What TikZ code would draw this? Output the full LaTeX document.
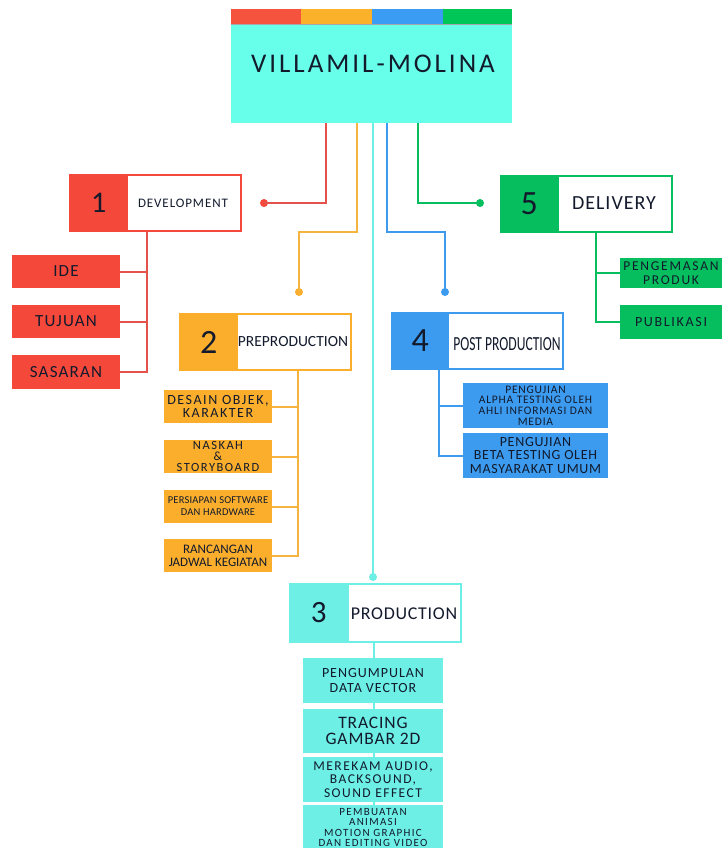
\documentclass[tikz,border=0pt]{standalone}
\usepackage{fontspec}
\setmainfont{Carlito}
\definecolor{redA}{HTML}{F4483B}
\definecolor{redL}{HTML}{E4524C}
\definecolor{orA}{HTML}{FBAE2C}
\definecolor{orL}{HTML}{F5B340}
\definecolor{blA}{HTML}{3C9BEF}
\definecolor{grA}{HTML}{06BE5E}
\definecolor{mintA}{HTML}{68FFEA}
\definecolor{cyA}{HTML}{6DEFE6}
\definecolor{barR}{HTML}{F5533D}
\definecolor{barO}{HTML}{FBB12A}
\definecolor{barB}{HTML}{3B9CF4}
\definecolor{barG}{HTML}{00C657}
\definecolor{ink}{HTML}{121A2C}
\newcommand\tf[3]{\fontsize{#1}{#2}\selectfont\addfontfeatures{LetterSpace=#3}}
\begin{document}
\begin{tikzpicture}[x=1pt,y=-1pt,
  stepbox/.style={draw=#1, line width=2pt, fill=white, minimum width=171pt, minimum height=56pt, inner sep=0pt},
  numbox/.style={fill=#1, minimum height=58pt, inner sep=0pt, anchor=west, text=ink},
  subbox/.style={fill=#1, inner sep=0pt, align=center, text=ink},
  conn/.style={draw=#1, line width=2.2pt},
  stem/.style={draw=#1, line width=2pt},
  dot/.style={circle, fill=#1, inner sep=0pt, minimum size=8pt},
  lbl/.style={text=ink, inner sep=0pt}]
\useasboundingbox (0,0) rectangle (722,848);

% title
\fill[barR] (231,9) rectangle (301,24);
\fill[barO] (301,9) rectangle (372,24);
\fill[barB] (372,9) rectangle (443,24);
\fill[barG] (443,9) rectangle (512,24);
\node[fill=mintA, minimum width=281pt, minimum height=99pt, inner sep=0pt, anchor=north west] (title) at (231,24) {};
\draw[gray!70, line width=0.8pt] (title.north west) -- (title.north east);
\node[lbl, font=\tf{27}{27}{11}] (tt) at (373,64) {VILLAMIL-MOLINA};

% coordinates for connectors
\coordinate (r1) at (326,203);
\coordinate (o1) at (357,232);
\coordinate (o2) at (299,232);
\coordinate (c1) at (373,577);
\coordinate (bl1) at (387,232);
\coordinate (bl2) at (445,232);
\coordinate (g1) at (418,203);

\node[dot=redA] (d1) at (264,203) {};
\node[dot=orA] (d2) at (299,292) {};
\node[dot=cyA] (d3) at (373,577) {};
\node[dot=blA] (d4) at (445,292) {};
\node[dot=grA] (d5) at (480,203) {};

\draw[conn=redL] (title.south -| r1) -- (r1) -- (d1.center);
\draw[conn=orL] (title.south -| o1) -- (o1) -- (o2) -- (d2.center);
\draw[conn=cyA] (title.south -| c1) -- (d3.center);
\draw[conn=blA] (title.south -| bl1) -- (bl1) -- (bl2) -- (d4.center);
\draw[conn=grA] (title.south -| g1) -- (g1) -- (d5.center);

% step boxes
\node[stepbox=redA] (b1) at (155.5,203) {};
\node[numbox=redA, minimum width=59pt, font=\fontsize{30}{30}\selectfont] (n1) at (b1.west) {1};
\node[lbl, font=\tf{13}{13}{7}] (l1) at (183,203) {DEVELOPMENT};

\node[stepbox=orA] (b2) at (265.5,342) {};
\node[numbox=orA, minimum width=59pt, font=\fontsize{34}{34}\selectfont] (n2) at (b2.west) {2};
\node[lbl, font=\tf{15.5}{15}{0}] (l2) at (293,342) {PREPRODUCTION};

\node[stepbox=cyA, minimum height=58pt] (b3) at (375,613) {};
\node[numbox=cyA, minimum width=60pt, minimum height=60pt, font=\fontsize{31}{31}\selectfont] (n3) at (b3.west) {3};
\node[lbl, font=\tf{18}{18}{4}] (l3) at (404,614) {PRODUCTION};

\node[stepbox=blA] (b4) at (477.5,341) {};
\node[numbox=blA, minimum width=58pt, font=\fontsize{34}{34}\selectfont] (n4) at (b4.west) {4};
\node[lbl, font=\fontsize{20}{20}\selectfont] (l4) at (507,344) {\scalebox{0.68}[1]{POST PRODUCTION}};

\node[stepbox=grA] (b5) at (586,203.5) {};
\node[numbox=grA, minimum width=59pt, font=\fontsize{34}{34}\selectfont] (n5) at (b5.west) {5};
\node[lbl, font=\tf{20}{20}{5}] (l5) at (614,203) {DELIVERY};

% development subs
\node[subbox=redA, minimum width=108pt, minimum height=33pt, font=\tf{17}{17}{7}] (ide) at (66,271.5) {IDE};
\node[subbox=redA, minimum width=108pt, minimum height=33pt, font=\tf{17}{17}{7}] (tuj) at (66,321.5) {TUJUAN};
\node[subbox=redA, minimum width=108pt, minimum height=34pt, font=\tf{17}{17}{7}] (sas) at (66,372) {SASARAN};
\coordinate (s1) at (147,372);
\draw[stem=redL] (b1.south -| s1) -- (s1) -- (sas.east);
\draw[stem=redL] (ide.east) -- (ide.east -| s1);
\draw[stem=redL] (tuj.east) -- (tuj.east -| s1);

% preproduction subs
\coordinate (s2) at (298,556);
\draw[stem=orL] (b2.south -| s2) -- (s2) -- (218,556);
\node[subbox=orA, minimum width=108pt, minimum height=33pt, font=\tf{14}{13}{11}] (des) at (218,406.5) {DESAIN OBJEK,\\KARAKTER};
\node[subbox=orA, minimum width=108pt, minimum height=33pt, font=\tf{12.5}{11}{12}] (nas) at (218,456.5) {NASKAH\\\&\\STORYBOARD};
\node[subbox=orA, minimum width=108pt, minimum height=33pt, font=\tf{10.5}{12}{2}] (per) at (218,506.5) {PERSIAPAN SOFTWARE\\DAN HARDWARE};
\node[subbox=orA, minimum width=108pt, minimum height=33pt, font=\tf{13}{13}{0}] (ran) at (218,555.5) {RANCANGAN\\JADWAL KEGIATAN};
\draw[stem=orL] (des.east) -- (des.east -| s2);
\draw[stem=orL] (nas.east) -- (nas.east -| s2);
\draw[stem=orL] (per.east) -- (per.east -| s2);

% post production subs
\coordinate (s4) at (439,455.5);
\node[subbox=blA, minimum width=145pt, minimum height=45pt, font=\tf{11.5}{10.8}{7}] (alp) at (535.5,405.5) {PENGUJIAN\\ALPHA TESTING OLEH\\AHLI INFORMASI DAN\\MEDIA};
\node[subbox=blA, minimum width=145pt, minimum height=45pt, font=\tf{14}{13.5}{5}] (bet) at (535.5,455.5) {PENGUJIAN\\BETA TESTING OLEH\\MASYARAKAT UMUM};
\draw[stem=blA] (b4.south -| s4) -- (s4) -- (bet.west);
\draw[stem=blA] (alp.west -| s4) -- (alp.west);

% delivery subs
\coordinate (s5) at (596,322);
\node[subbox=grA, minimum width=102pt, minimum height=30pt, font=\tf{13.5}{13.5}{13}] (pen) at (671,273) {PENGEMASAN\\PRODUK};
\node[subbox=grA, minimum width=102pt, minimum height=34pt, font=\tf{14}{13}{12}] (pub) at (671,322) {PUBLIKASI};
\draw[stem=grA] (b5.south -| s5) -- (s5) -- (pub.west);
\draw[stem=grA] (pen.west -| s5) -- (pen.west);

% production subs
\coordinate (s3) at (374,848);
\draw[stem=cyA] (b3.south -| s3) -- (s3);
\node[subbox=cyA, minimum width=140pt, minimum height=45pt, font=\tf{14}{15}{7}] (pgm) at (373,680.5) {PENGUMPULAN\\DATA VECTOR};
\node[subbox=cyA, minimum width=140pt, minimum height=44pt, font=\tf{17.5}{16}{5}] (trc) at (373,731) {TRACING\\GAMBAR 2D};
\node[subbox=cyA, minimum width=140pt, minimum height=45pt, font=\tf{13.5}{13.5}{11}] (mrk) at (373,779.5) {MEREKAM AUDIO,\\BACKSOUND,\\SOUND EFFECT};
\node[subbox=cyA, minimum width=140pt, minimum height=45pt, font=\tf{11}{10.5}{12}] (pmb) at (373,827.5) {PEMBUATAN\\ANIMASI\\MOTION GRAPHIC\\DAN EDITING VIDEO};
\end{tikzpicture}
\end{document}
